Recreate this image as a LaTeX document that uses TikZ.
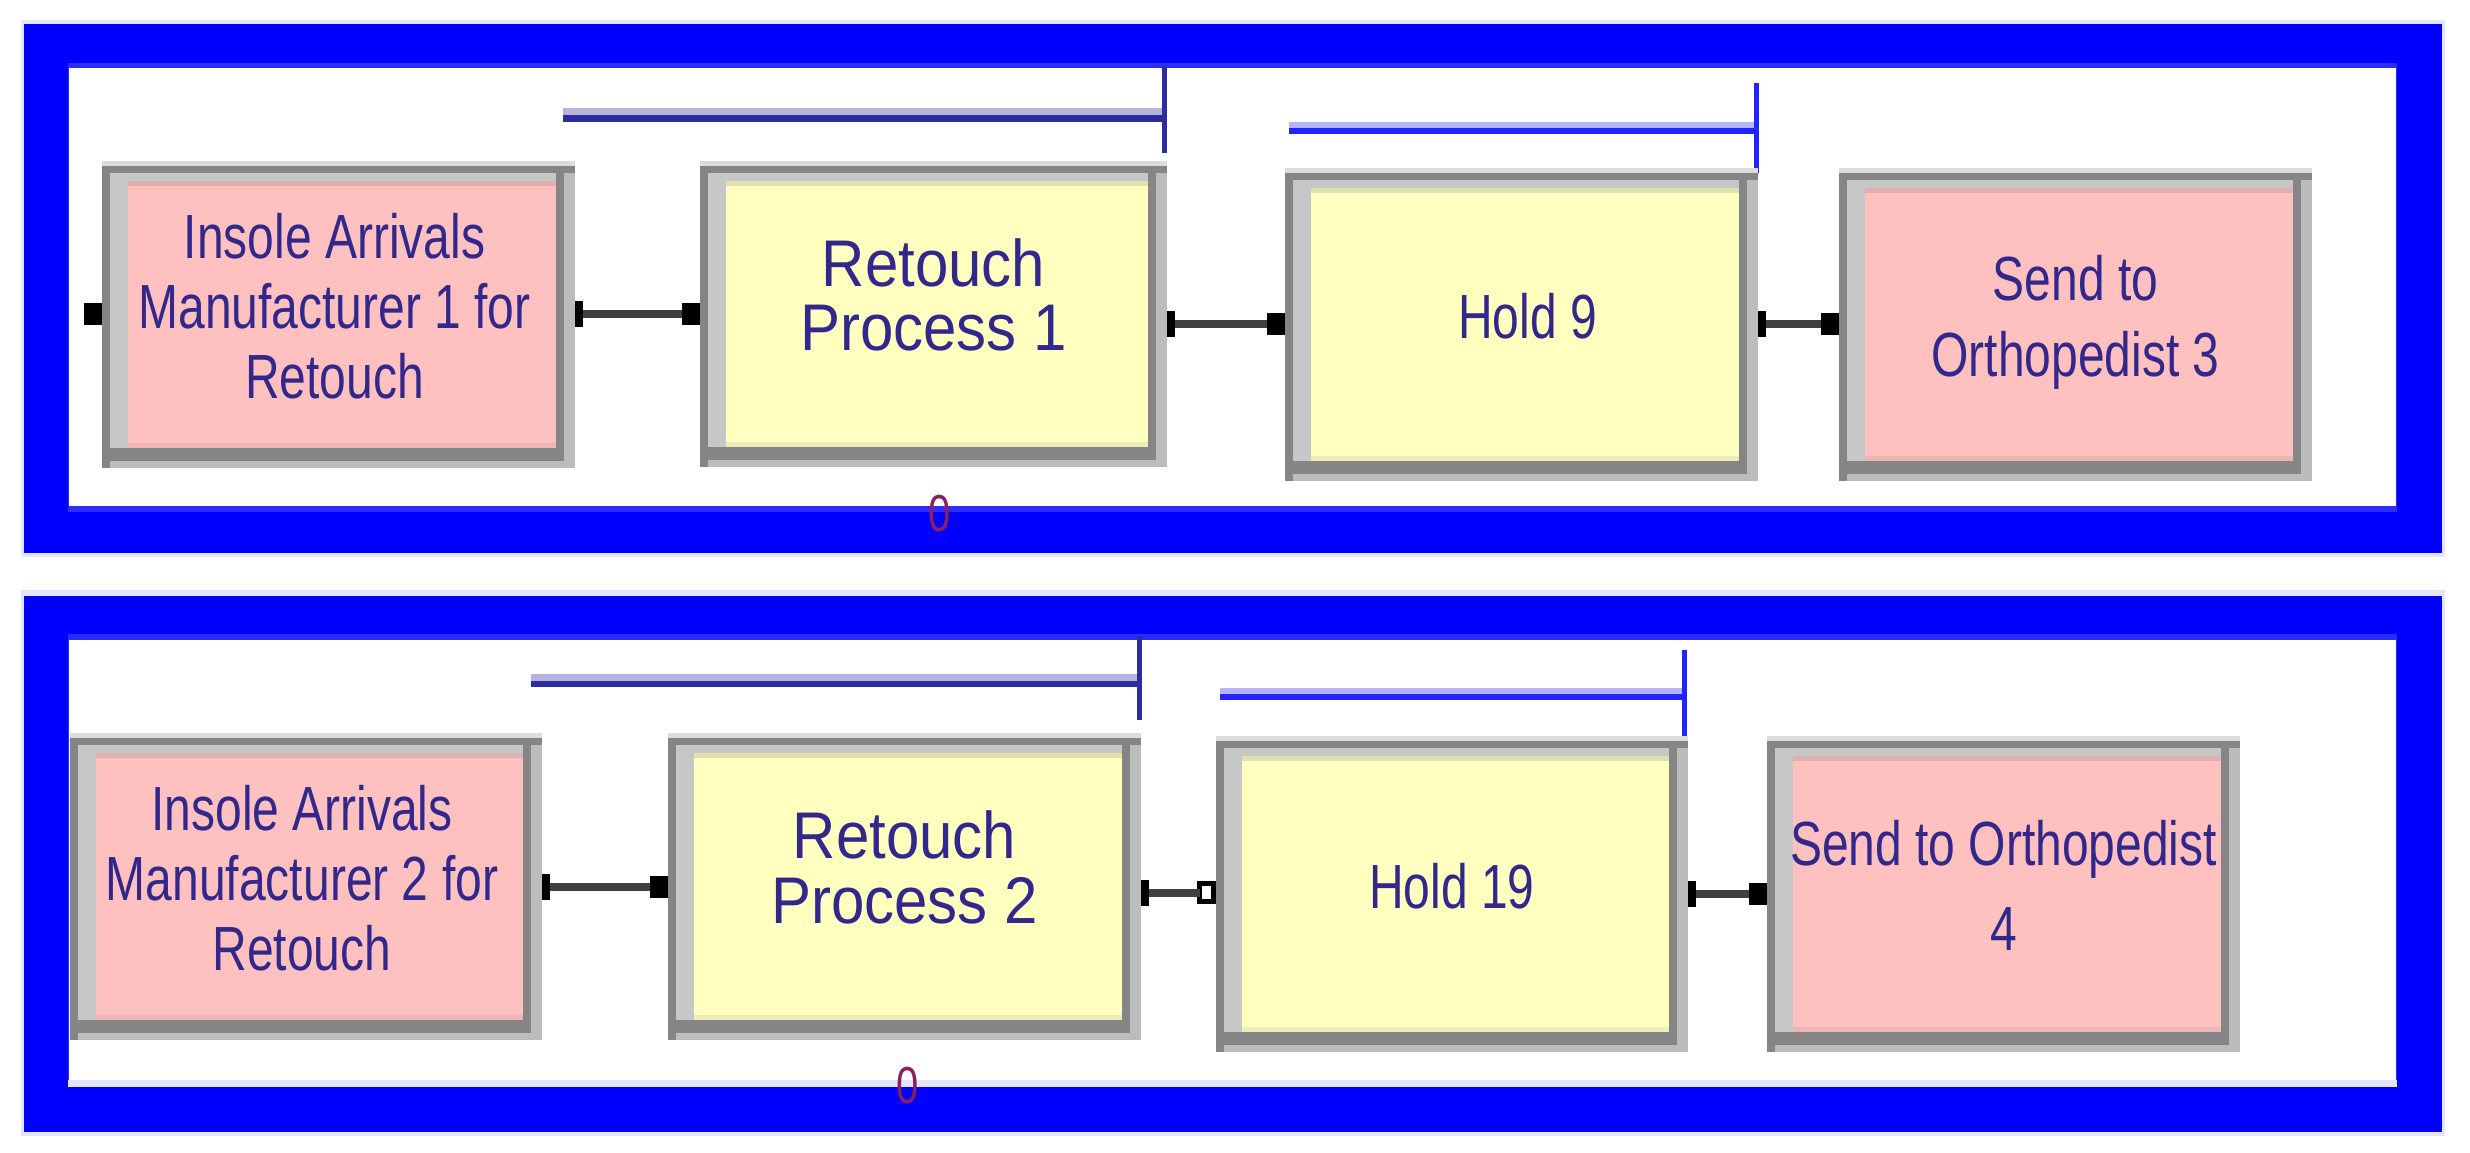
\documentclass[tikz,border=0pt]{standalone}
\usepackage{fontspec}
\setmainfont{Liberation Sans}
\usepackage{graphicx}
\definecolor{pinkfill}{RGB}{255,192,192}
\definecolor{yellowfill}{RGB}{255,255,192}
\definecolor{bxdark}{RGB}{133,133,133}
\definecolor{bxlight}{RGB}{188,188,188}
\definecolor{bxmid}{RGB}{198,200,200}
\definecolor{bxhalo}{RGB}{220,220,220}
\definecolor{qnavy}{RGB}{44,44,156}
\definecolor{qlightnavy}{RGB}{180,180,220}
\definecolor{qblue}{RGB}{36,36,255}
\definecolor{qlightblue}{RGB}{180,180,255}
\definecolor{framblue}{RGB}{0,0,255}
\definecolor{framedge}{RGB}{44,44,255}
\definecolor{framhalo}{RGB}{228,228,255}
\definecolor{lblcol}{RGB}{50,40,140}
\definecolor{indcol}{RGB}{140,30,100}
\definecolor{conncol}{RGB}{64,64,64}

\newcommand{\smalllbl}[1]{\scalebox{1}[1.3]{\fontsize{12}{13.5}\selectfont\begin{tabular}{@{}c@{}}#1\end{tabular}}}
\newcommand{\biglbl}[1]{\scalebox{1}[1.1]{\fontsize{15}{14.5}\selectfont\begin{tabular}{@{}c@{}}#1\end{tabular}}}

% name, x0, y0, x1, y1, fill colour
\newcommand{\arenabox}[6]{%
  \fill[bxlight] (#2,#3) rectangle (#4,#5);
  \fill[bxhalo] (#2,#3) rectangle (#4,#3+5);
  \fill[bxdark] (#2,#3+5) rectangle (#4,#3+12);
  \fill[bxdark] (#2,#3+5) rectangle (#2+8,#5);
  \fill[bxdark] (#4-19,#3+12) rectangle (#4-11,#5-7);
  \fill[bxdark] (#2+8,#5-20) rectangle (#4-11,#5-7);
  \fill[bxmid] (#2+8,#3+12) rectangle (#4-19,#3+20);
  \fill[bxmid] (#2+8,#3+12) rectangle (#2+26,#5-20);
  \fill[#6] (#2+26,#3+20) rectangle (#4-19,#5-20);
  \fill[#6!75!gray] (#2+26,#3+20) rectangle (#4-19,#3+25);
  \fill[#6!85!gray] (#2+26,#5-25) rectangle (#4-19,#5-20);
  \node[boxnode, minimum width={(#4-#2)*0.25pt}, minimum height={(#5-#3)*0.25pt}] (#1) at ({(#2+#4)/2},{(#3+#5)/2}) {};
}

\begin{document}
\begin{tikzpicture}[x=0.25pt,y=-0.25pt,
  boxnode/.style={rectangle, inner sep=0pt, outer sep=0pt},
  lbl/.style={inner sep=0pt, text=lblcol},
  conn/.style={line width=2pt, draw=conncol},
  exitp/.style={fill=black, inner sep=0pt, outer sep=0pt, minimum width=2pt, minimum height=6.5pt, anchor=west},
  entryp/.style={fill=black, inner sep=0pt, outer sep=0pt, minimum width=4.5pt, minimum height=5.5pt, anchor=east},
  entryh/.style={entryp, fill=white, draw=black, line width=1.2pt, minimum width=3.5pt, minimum height=4.5pt},
  ind/.style={inner sep=0pt, text=indcol, font=\fontsize{10}{10}\selectfont}
]
\useasboundingbox (0,0) rectangle (2470,1153);
\fill[white] (0,0) rectangle (2470,1153);

% ---------- frames ----------
\fill[framhalo] (21,20) rectangle (2445,557);
\fill[framblue] (24,24) rectangle (2442,553);
\fill[framedge] (68,63) rectangle (2397,512);
\fill[white] (69,68) rectangle (2396,506);

\fill[framhalo] (21,590) rectangle (2445,1136);
\fill[framblue] (24,596) rectangle (2442,1132);
\fill[framedge] (68,634) rectangle (2397,1081);
\fill[framhalo] (68,1080) rectangle (2397,1087);
\fill[white] (69,640) rectangle (2396,1080);

% ---------- queue lines ----------
\fill[qlightnavy] (563,108) rectangle (1165,115);
\fill[qnavy] (563,115) rectangle (1165,122);
\fill[qnavy] (1162,66) rectangle (1167,153);

\fill[qlightblue] (1289,122) rectangle (1756,128);
\fill[qblue] (1289,128) rectangle (1756,134);
\fill[qblue] (1754,83) rectangle (1759,173);

\fill[qlightnavy] (531,674) rectangle (1139,681);
\fill[qnavy] (531,681) rectangle (1139,687);
\fill[qnavy] (1137,636) rectangle (1142,720);

\fill[qlightblue] (1220,688) rectangle (1684,694);
\fill[qblue] (1220,694) rectangle (1684,700);
\fill[qblue] (1682,650) rectangle (1687,739);

% ---------- boxes ----------
\arenabox{A1}{102}{161}{575}{468}{pinkfill}
\arenabox{B1}{700}{161}{1167}{467}{yellowfill}
\arenabox{C1}{1285}{168}{1758}{481}{yellowfill}
\arenabox{D1}{1839}{168}{2312}{481}{pinkfill}

\arenabox{A2}{70}{733}{542}{1040}{pinkfill}
\arenabox{B2}{668}{733}{1141}{1040}{yellowfill}
\arenabox{C2}{1216}{736}{1688}{1052}{yellowfill}
\arenabox{D2}{1767}{736}{2240}{1052}{pinkfill}

% ---------- labels ----------
\node[lbl] (A1t) at ([xshift=-1pt]A1.center) {\smalllbl{Insole Arrivals\\Manufacturer 1 for\\Retouch}};
\node[lbl] (B1t) at ([yshift=2.5pt]B1.center) {\biglbl{Retouch\\Process 1}};
\node[lbl] (C1t) at ([xshift=1.5pt]C1.center) {\smalllbl{Hold 9}};
\node[lbl] (D1t) at (D1.center) {\smalllbl{Send to\\[1pt]Orthopedist 3}};

\node[lbl] (A2t) at ([xshift=-1pt]A2.center) {\smalllbl{Insole Arrivals\\Manufacturer 2 for\\Retouch}};
\node[lbl] (B2t) at ([yshift=2.5pt]B2.center) {\biglbl{Retouch\\Process 2}};
\node[lbl] (C2t) at (C2.center) {\smalllbl{Hold 19}};
\node[lbl] (D2t) at (D2.center) {\smalllbl{Send to Orthopedist\\[3pt]4}};

% ---------- ports and connectors ----------
\node[entryp] (A1i) at (A1.west) {};

\node[exitp] (A1o) at (A1.east) {};
\node[entryp] (B1i) at (B1.west |- A1o) {};
\draw[conn] (A1o.east) -- (B1i.west);

\node[exitp] (B1o) at (B1.east |- C1.west) {};
\node[entryp] (C1i) at (C1.west) {};
\draw[conn] (B1o.east) -- (C1i.west);

\node[exitp] (C1o) at (C1.east) {};
\node[entryp] (D1i) at (D1.west |- C1o) {};
\draw[conn] (C1o.east) -- (D1i.west);

\node[exitp] (A2o) at (A2.east) {};
\node[entryp] (B2i) at (B2.west |- A2o) {};
\draw[conn] (A2o.east) -- (B2i.west);

\node[exitp] (B2o) at ([yshift=-1.5pt]B2.east) {};
\node[entryh] (C2i) at ([xshift=-0.6pt]C2.west |- B2o) {};
\draw[conn] (B2o.east) -- (C2i.west);

\node[exitp] (C2o) at (C2.east) {};
\node[entryp] (D2i) at (D2.west |- C2o) {};
\draw[conn] (C2o.east) -- (D2i.west);

% ---------- counters ----------
\node[ind] (B1n) at (940,514) {\scalebox{1}[1.3]{0}};
\node[ind] (B2n) at (908,1086) {\scalebox{1}[1.3]{0}};
\end{tikzpicture}
\end{document}
